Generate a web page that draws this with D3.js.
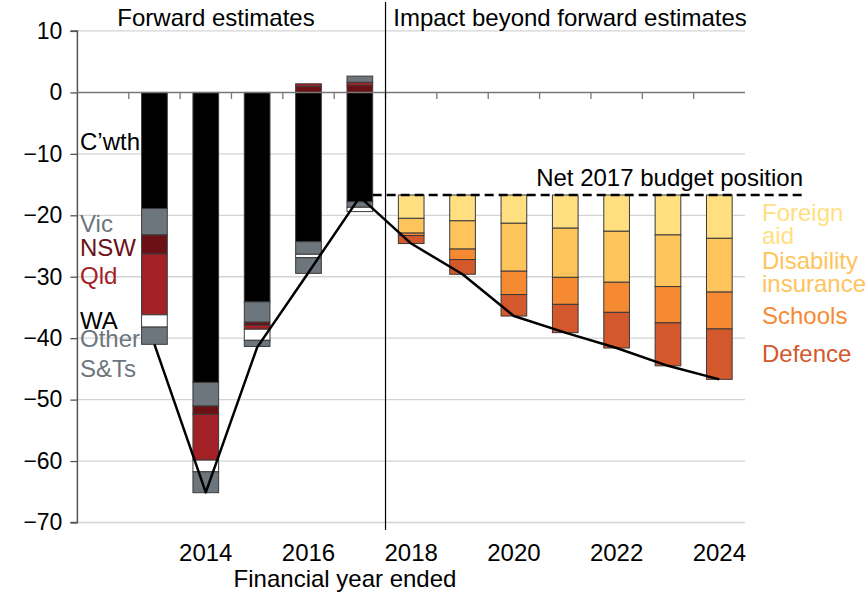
<!DOCTYPE html>
<html><head><meta charset="utf-8">
<script src="https://cdn.jsdelivr.net/npm/d3@7"></script>
<style>
html,body{margin:0;padding:0;background:#fff;}
svg text{font-family:"Liberation Sans",Arial,sans-serif;}
</style></head>
<body><svg id="c" width="868" height="595"></svg>
<script>
// ---- data ----
const years = [2012,2013,2014,2015,2016,2017,2018,2019,2020,2021,2022,2023,2024];
const tickYears = [2014,2016,2018,2020,2022,2024];
const yTicks = [10,0,-10,-20,-30,-40,-50,-60,-70];

// Forward estimates (2013-2017), $b by government
const fwdYears = [2013,2014,2015,2016,2017];
const cwth  = [-18.9,-47.2,-34.1,-24.3,-17.8];
const vic   = [-4.3,-3.85,-3.3,-2.05,-0.9];
const nsw   = [-3.1,-1.35,-0.5,1.0,1.15];
const qld   = [-9.9,-7.45,-0.65,0.4,0.5];
const wa    = [-2.0,-1.9,-1.8,-0.55,-0.7];
const other = [-2.8,-3.4,-1.0,-2.55,1.0];

// Beyond forward estimates (2018-2024), stacked below net 2017 budget position
const beyondYears = [2018,2019,2020,2021,2022,2023,2024];
const netBase = -16.7;
const foreignAid = [-3.8,-4.2,-4.6,-5.4,-5.9,-6.5,-7.05];
const disability = [-2.4,-4.6,-7.8,-8.0,-8.3,-8.4,-8.75];
const schools    = [-0.4,-1.7,-3.8,-4.4,-4.9,-5.9,-6.0];
const defence    = [-1.3,-2.4,-3.5,-4.6,-5.8,-7.0,-8.2];

// Net total line
const netYears = [2013,2014,2015,2016,2017,2018,2019,2020,2021,2022,2023,2024];
const netLine  = [-41.0,-65.1,-41.5,-29.3,-17.0,-24.6,-29.6,-36.4,-39.1,-41.6,-44.5,-46.7];

// ---- chart ----
const svg = d3.select("#c");
const L = 77.4, R = 745, T = 30.96, B = 522.5;
const x = d3.scaleBand().domain(years).range([L,R]).paddingInner(0.5).paddingOuter(0.25);
const y = d3.scaleLinear().domain([-70,10]).range([B,T]);
const FS = 24;

// gridlines
svg.append("g").selectAll("line").data(yTicks.filter(d=>d!==0)).join("line")
  .attr("x1",L).attr("x2",R).attr("y1",d=>y(d)).attr("y2",d=>y(d))
  .attr("stroke","#d4d4d4").attr("stroke-width",1.3);

// y axis
const ya = d3.axisLeft(y).tickValues(yTicks).tickSize(7).tickPadding(8).tickFormat(d3.format("d"));
const yg = svg.append("g").attr("transform",`translate(${L},0)`).call(ya);
yg.select(".domain").attr("stroke","#555").attr("stroke-width",1.5).attr("d",`M-7,${y(10)}H0V${y(-70)}H-7`);
yg.selectAll(".tick line").attr("stroke","#555").attr("stroke-width",1.3);
yg.selectAll(".tick text").attr("font-size",23).attr("fill","#000")
  .style("font-family","'Liberation Sans',Arial,sans-serif");

// left stacked bars
const govKeys = ["cwth","vic","nsw","qld","wa","other"];
const govCols = {cwth:"#000000",vic:"#6d757d",nsw:"#6b1015",qld:"#a32126",wa:"#ffffff",other:"#6d757d"};
const govArr = {cwth,vic,nsw,qld,wa,other};
const fwdRows = fwdYears.map((yr,i)=>{const o={year:yr};govKeys.forEach(k=>o[k]=govArr[k][i]);return o;});
const stack = d3.stack().keys(govKeys).offset(d3.stackOffsetDiverging)(fwdRows);
svg.append("g").selectAll("g").data(stack).join("g")
  .attr("fill",d=>govCols[d.key])
  .selectAll("rect").data(d=>d).join("rect")
  .attr("x",d=>x(d.data.year)).attr("width",x.bandwidth())
  .attr("y",d=>y(Math.max(d[0],d[1]))).attr("height",d=>Math.abs(y(d[0])-y(d[1])))
  .attr("stroke","#3a3a3a").attr("stroke-width",1);

// right stacked bars
const polKeys = ["foreignAid","disability","schools","defence"];
const polArr = {foreignAid,disability,schools,defence};
const polCols = {foreignAid:"#ffdf80",disability:"#fec45c",schools:"#f58a33",defence:"#d3582b"};
const polSegs = [];
beyondYears.forEach((yr,i)=>{
  let cur = netBase;
  polKeys.forEach(k=>{ const nv = cur+polArr[k][i]; polSegs.push({year:yr,key:k,y0:cur,y1:nv}); cur=nv; });
});
svg.append("g").selectAll("rect").data(polSegs).join("rect")
  .attr("x",d=>x(d.year)).attr("width",x.bandwidth())
  .attr("y",d=>y(d.y0)).attr("height",d=>y(d.y1)-y(d.y0))
  .attr("fill",d=>polCols[d.key]).attr("stroke","#3a3a3a").attr("stroke-width",1);

// zero line + category ticks
svg.append("line").attr("x1",L).attr("x2",R).attr("y1",y(0)).attr("y2",y(0))
  .attr("stroke","#777").attr("stroke-width",1.5);
svg.append("g").selectAll("line").data(years.slice(1)).join("line")
  .attr("x1",d=>x(d)+x.bandwidth()/2-x.step()/2).attr("x2",d=>x(d)+x.bandwidth()/2-x.step()/2)
  .attr("y1",y(0)).attr("y2",y(0)+6.5).attr("stroke","#777").attr("stroke-width",1.3);

// divider
const divX = x(2018)+x.bandwidth()/2-x.step()/2;
svg.append("line").attr("x1",divX).attr("x2",divX).attr("y1",2).attr("y2",530)
  .attr("stroke","#000").attr("stroke-width",1.2);

// net 2017 budget position dashed line
svg.append("line").attr("x1",x(2017)+x.bandwidth()).attr("x2",803)
  .attr("y1",y(netBase)).attr("y2",y(netBase))
  .attr("stroke","#000").attr("stroke-width",2.5).attr("stroke-dasharray","9,5");

// net line
const cx = d=>x(d)+x.bandwidth()/2;
svg.append("path").datum(netYears.map((yr,i)=>[yr,netLine[i]]))
  .attr("d",d3.line().x(d=>cx(d[0])).y(d=>y(d[1])))
  .attr("fill","none").attr("stroke","#000").attr("stroke-width",2.5).attr("stroke-linejoin","round");

// x tick labels
svg.append("g").selectAll("text").data(tickYears).join("text")
  .attr("x",d=>cx(d)).attr("y",561).attr("text-anchor","middle").attr("font-size",FS).text(d=>d);
svg.append("text").attr("x",345).attr("y",587).attr("text-anchor","middle").attr("font-size",FS).text("Financial year ended");

// section titles
svg.append("text").attr("x",216).attr("y",26).attr("text-anchor","middle").attr("font-size",FS).text("Forward estimates");
svg.append("text").attr("x",570).attr("y",26).attr("text-anchor","middle").attr("font-size",FS).text("Impact beyond forward estimates");
svg.append("text").attr("x",803).attr("y",186).attr("text-anchor","end").attr("font-size",FS).text("Net 2017 budget position");

// left labels
const leftLabels = [
  {t:"C\u2019wth",y:149.5,c:"#000"},{t:"Vic",y:231.5,c:"#6d757d"},{t:"NSW",y:256,c:"#6b1015"},
  {t:"Qld",y:284,c:"#a32126"},{t:"WA",y:329,c:"#000"},{t:"Other",y:347,c:"#6d757d"},{t:"S&Ts",y:376.5,c:"#6d757d"}];
svg.append("g").selectAll("text").data(leftLabels).join("text")
  .attr("x",80).attr("y",d=>d.y).attr("fill",d=>d.c).attr("font-size",FS).text(d=>d.t);

// right labels
const rightLabels = [
  {t:"Foreign",y:221,c:"#ffdf80"},{t:"aid",y:243.5,c:"#ffdf80"},{t:"Disability",y:268.5,c:"#fec45c"},
  {t:"insurance",y:292,c:"#fec45c"},{t:"Schools",y:323.5,c:"#f58a33"},{t:"Defence",y:361.5,c:"#d3582b"}];
svg.append("g").selectAll("text").data(rightLabels).join("text")
  .attr("x",762).attr("y",d=>d.y).attr("fill",d=>d.c).attr("font-size",FS).text(d=>d.t);
</script></body></html>
